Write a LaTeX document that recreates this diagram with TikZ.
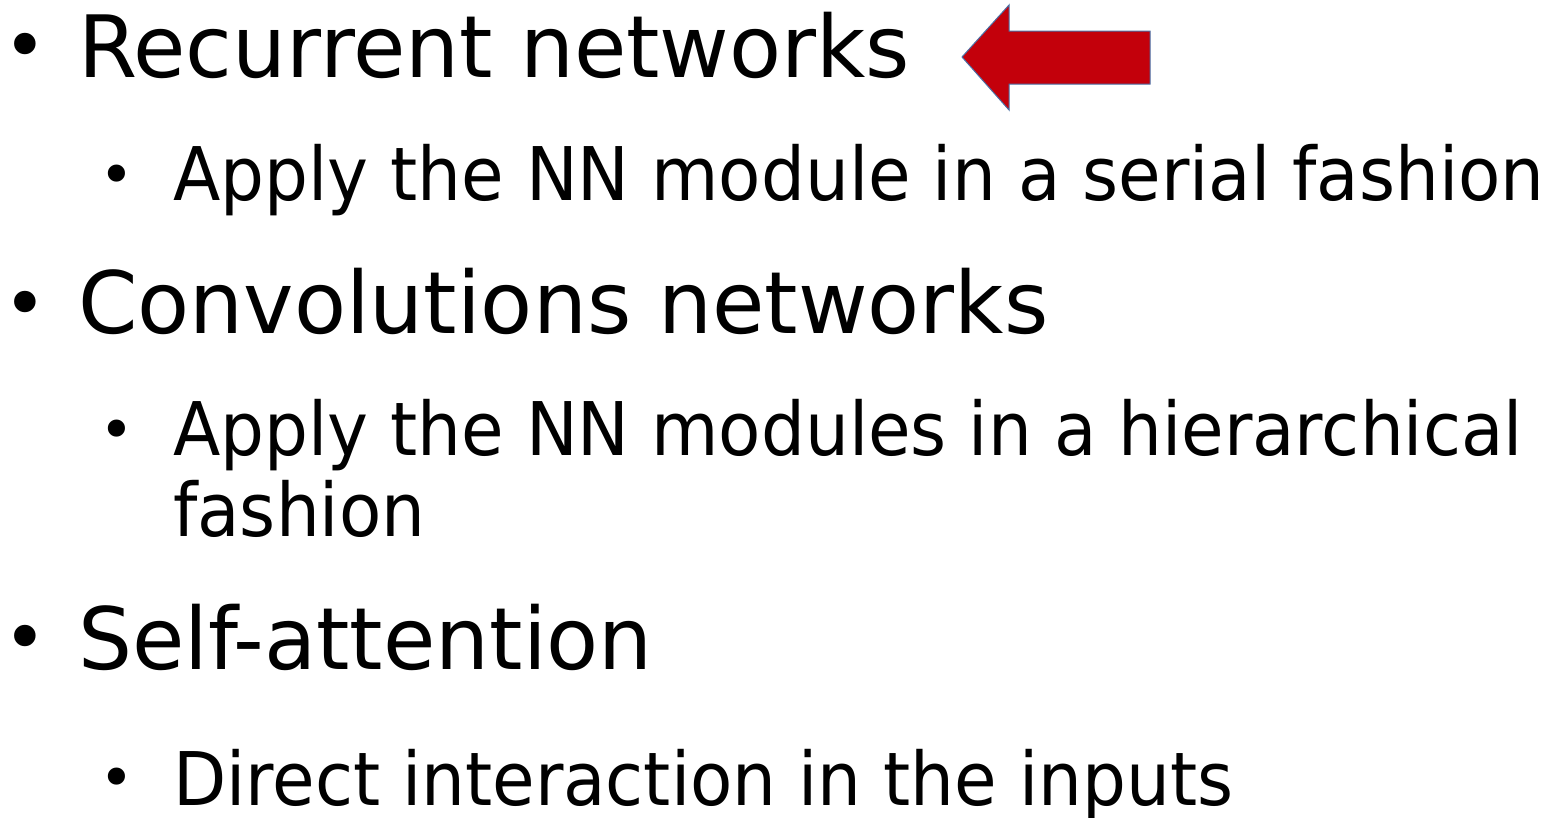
\documentclass[tikz,border=0pt]{standalone}
\usepackage{fontspec}
\setmainfont{DejaVu Sans}
\newfontfamily\topfont[FakeStretch=0.99]{DejaVu Sans}
\newfontfamily\subfont[FakeStretch=0.935]{DejaVu Sans}
\definecolor{arrowred}{HTML}{C3000B}
\definecolor{arrowedge}{HTML}{4A6FA5}
\begin{document}
\begin{tikzpicture}[x=1pt,y=-1pt,
  lvlone/.style={anchor=base west,inner sep=0pt,font=\topfont\fontsize{86}{86}\selectfont},
  lvltwo/.style={anchor=base west,inner sep=0pt,font=\subfont\fontsize{74}{80}\selectfont,align=left},
  dotone/.style={anchor=base west,inner sep=0pt,font=\fontsize{74}{74}\selectfont},
  dottwo/.style={anchor=base west,inner sep=0pt,font=\fontsize{59}{59}\selectfont}]
\useasboundingbox (0,0) rectangle (1552,817);

% first level items
\node[dotone] (b1) at (3.5,71.5) {•};
\node[lvlone] (t1) at (78,77) {Recurrent networks};
\node[dotone] (b3) at (3.5,329.5) {•};
\node[lvlone] (t3) at (78,333) {Convolutions networks};
\node[dotone] (b5) at (3.5,663.5) {•};
\node[lvlone] (t5) at (78,669) {Self-attention};

% second level items
\node[dottwo] (b2) at (99.4,195) {•};
\node[lvltwo] (t2) at (173,200) {Apply the NN module in a serial fashion};
\node[dottwo] (b4) at (99.4,450) {•};
\node[lvltwo,anchor=north west] (t4) at (173,399) {\strut Apply the NN modules in a hierarchical\\fashion};
\node[dottwo] (b6) at (99.4,798) {•};
\node[lvltwo] (t6) at (173,805) {Direct interaction in the inputs};

% block arrow pointing at the first item
\filldraw[fill=arrowred,draw=arrowedge,line width=1pt]
  (962,57) -- (1009,5) -- (1009,31) -- (1150,31) -- (1150,84)
  -- (1009,84) -- (1009,110) -- cycle;
\end{tikzpicture}
\end{document}
